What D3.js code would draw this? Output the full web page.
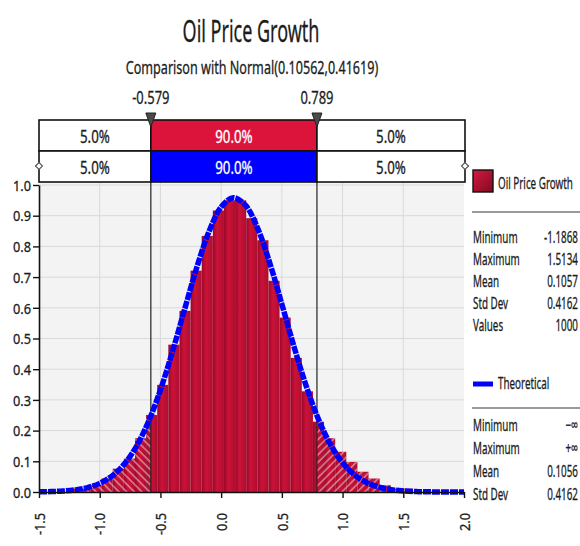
<!DOCTYPE html>
<html>
<head>
<meta charset="utf-8">
<script src="https://cdn.jsdelivr.net/npm/d3@7"></script>
<style>
  html, body { margin: 0; padding: 0; background: #fff; }
  svg { display: block; }
  text { font-family: "Noto Sans", "Open Sans", sans-serif; fill: #1c1c1c;
         paint-order: stroke; stroke-width: 0.3px; }
</style>
</head>
<body>
<div id="chart"></div>
<script>
// Histogram of simulated oil price growth (density scale) with fitted normal curve
const binEdges = [-1.2592, -1.1676, -1.0760, -0.9844, -0.8928, -0.8012, -0.7096, -0.6180,
  -0.5264, -0.4348, -0.3432, -0.2516, -0.1600, -0.0684, 0.0232, 0.1148, 0.2064, 0.2980,
  0.3896, 0.4812, 0.5728, 0.6644, 0.7560, 0.8476, 0.9392, 1.0308, 1.1224, 1.2140,
  1.3056, 1.3972, 1.4888, 1.5804];
const densities = [0.011, 0.011, 0.022, 0.044, 0.076, 0.109, 0.175, 0.251, 0.349, 0.480,
  0.590, 0.721, 0.834, 0.917, 0.950, 0.950, 0.892, 0.820, 0.688, 0.568, 0.437, 0.328,
  0.229, 0.175, 0.131, 0.098, 0.066, 0.044, 0.022, 0.011, 0.011];

// Theoretical Normal(0.10562, 0.41619) density
const curveX = [-1.5, -1.4, -1.3, -1.2, -1.1, -1.0, -0.9, -0.8, -0.7, -0.6, -0.5, -0.4,
  -0.3, -0.2, -0.1, 0.0, 0.1, 0.2, 0.3, 0.4, 0.5, 0.6, 0.7, 0.8, 0.9, 1.0, 1.1, 1.2,
  1.3, 1.4, 1.5, 1.6, 1.7, 1.8, 1.9, 2.0];
const curveY = [0.0006, 0.0014, 0.0032, 0.0070, 0.0144, 0.0281, 0.0517, 0.0899, 0.1472,
  0.2278, 0.3325, 0.4583, 0.5961, 0.7321, 0.8484, 0.9282, 0.9585, 0.9342, 0.8595, 0.7464,
  0.6118, 0.4734, 0.3458, 0.2383, 0.1551, 0.0953, 0.0552, 0.0302, 0.0156, 0.0076,
  0.0035, 0.0015, 0.0006, 0.0002, 0.0001, 0.0000];

const xTicks = [-1.5, -1.0, -0.5, 0.0, 0.5, 1.0, 1.5, 2.0];
const yTicks = [0.0, 0.1, 0.2, 0.3, 0.4, 0.5, 0.6, 0.7, 0.8, 0.9, 1.0];

const cutoffs = [-0.579, 0.789];
const cutoffLabels = ["-0.579", "0.789"];
const simPct = ["5.0%", "90.0%", "5.0%"];
const fitPct = ["5.0%", "90.0%", "5.0%"];

const titleText = "Oil Price Growth";
const subtitleText = "Comparison with Normal(0.10562,0.41619)";

const simName = "Oil Price Growth";
const simStatNames = ["Minimum", "Maximum", "Mean", "Std Dev", "Values"];
const simStatValues = ["-1.1868", "1.5134", "0.1057", "0.4162", "1000"];
const fitName = "Theoretical";
const fitStatNames = ["Minimum", "Maximum", "Mean", "Std Dev"];
const fitStatValues = ["\u2212\u221E", "+\u221E", "0.1056", "0.4162"];

// ---- layout ----
const W = 580, H = 546;
const plotL = 39, plotR = 464, plotT = 181, plotB = 492;
const TICK_SX = 0.85;        // narrow UI font: horizontal squeeze per text group
const INK = "#1c1c1c";

const x = d3.scaleLinear().domain([-1.5, 2.0]).range([plotL, plotR]);
const y = d3.scaleLinear().domain([0, 1.0]).range([plotB, 185]);
const fmt1 = d => d3.format(".1f")(d).replace("\u2212", "-");

const svg = d3.select("#chart").append("svg").attr("width", W).attr("height", H);
const defs = svg.append("defs");

function txt(g, tx, ty, s, size, sx, anchor, fill) {
  const c = fill || INK;
  return g.append("text")
    .attr("transform", `translate(${tx},${ty}) scale(${sx},1)`)
    .attr("text-anchor", anchor || "middle")
    .attr("dy", "0.35em")
    .style("font-size", size + "px")
    .style("fill", c).style("stroke", c)
    .text(s);
}

// gradients and hatching
const bg = defs.append("linearGradient").attr("id", "barGrad")
  .attr("x1", 0).attr("y1", 0).attr("x2", 1).attr("y2", 0);
bg.append("stop").attr("offset", "0%").attr("stop-color", "#98092a");
bg.append("stop").attr("offset", "40%").attr("stop-color", "#cc1238");
bg.append("stop").attr("offset", "100%").attr("stop-color", "#ad0e30");

const lg = defs.append("linearGradient").attr("id", "legGrad")
  .attr("x1", 0).attr("y1", 0).attr("x2", 1).attr("y2", 1);
lg.append("stop").attr("offset", "0%").attr("stop-color", "#d81a40");
lg.append("stop").attr("offset", "100%").attr("stop-color", "#7e0a20");

function hatch(id, angle) {
  const p = defs.append("pattern").attr("id", id)
    .attr("patternUnits", "userSpaceOnUse")
    .attr("width", 5.4).attr("height", 6)
    .attr("patternTransform", `rotate(${angle})`);
  p.append("line").attr("x1", 1).attr("y1", 0).attr("x2", 1).attr("y2", 6)
    .attr("stroke", "#ffffff").attr("stroke-opacity", 0.72).attr("stroke-width", 1);
}
hatch("hatchL", -45);
hatch("hatchR", 45);

defs.append("clipPath").attr("id", "clipL").append("rect")
  .attr("x", plotL).attr("y", plotT).attr("width", x(cutoffs[0]) - plotL).attr("height", plotB - plotT);
defs.append("clipPath").attr("id", "clipR").append("rect")
  .attr("x", x(cutoffs[1])).attr("y", plotT).attr("width", plotR - x(cutoffs[1])).attr("height", plotB - plotT);

// ---- titles ----
txt(svg, 251, 31, titleText, 30, 0.6);
txt(svg, 252, 68, subtitleText, 18, 0.7);

// ---- plot background and grid ----
svg.append("rect").attr("x", plotL).attr("y", plotT)
  .attr("width", plotR - plotL).attr("height", plotB - plotT).attr("fill", "#f3f3f3");

svg.append("g").selectAll("line").data(yTicks.filter(d => d > 0)).join("line")
  .attr("x1", plotL).attr("x2", plotR).attr("y1", d => y(d)).attr("y2", d => y(d))
  .attr("stroke", "#d9d9d9").attr("stroke-width", 1);
svg.append("g").selectAll("line").data(xTicks.filter(d => d > -1.5 && d < 2.0)).join("line")
  .attr("x1", d => x(d)).attr("x2", d => x(d)).attr("y1", plotT).attr("y2", plotB)
  .attr("stroke", "#d9d9d9").attr("stroke-width", 1);

// ---- histogram ----
const bins = densities.map((d, i) => ({ x0: binEdges[i], x1: binEdges[i + 1], v: d }));
svg.append("g").selectAll("rect").data(bins).join("rect")
  .attr("x", d => x(d.x0)).attr("width", d => x(d.x1) - x(d.x0))
  .attr("y", d => y(d.v)).attr("height", d => y(0) - y(d.v))
  .attr("fill", "url(#barGrad)");

// hatched tails outside the 90% interval
[["clipL", "hatchL"], ["clipR", "hatchR"]].forEach(([clip, pat]) => {
  svg.append("g").attr("clip-path", `url(#${clip})`)
    .selectAll("rect").data(bins).join("rect")
    .attr("x", d => x(d.x0)).attr("width", d => x(d.x1) - x(d.x0))
    .attr("y", d => y(d.v)).attr("height", d => y(0) - y(d.v))
    .attr("fill", `url(#${pat})`);
});

// ---- cutoff lines ----
svg.append("g").selectAll("line").data(cutoffs).join("line")
  .attr("x1", d => x(d)).attr("x2", d => x(d)).attr("y1", 118).attr("y2", plotB)
  .attr("stroke", "#222").attr("stroke-width", 1.2);

// ---- theoretical curve ----
const line = d3.line().x((d, i) => x(curveX[i])).y(d => y(d)).curve(d3.curveCatmullRom);
svg.append("path").datum(curveY).attr("d", line)
  .attr("fill", "none").attr("stroke", "#0000ff").attr("stroke-width", 5.5)
  .attr("stroke-dasharray", "8 1");

// ---- axes ----
const yAxis = svg.append("g").attr("transform", `translate(${plotL},0)`)
  .call(d3.axisLeft(y).tickValues(yTicks).tickSize(6).tickSizeOuter(0).tickFormat(fmt1));
const xAxis = svg.append("g").attr("transform", `translate(0,${plotB})`)
  .call(d3.axisBottom(x).tickValues(xTicks).tickSize(6).tickSizeOuter(0).tickFormat(fmt1));

[yAxis, xAxis].forEach(a => {
  a.attr("font-family", null).attr("font-size", null);
  a.select(".domain").attr("stroke", "#111").attr("stroke-width", 1.6);
  a.selectAll(".tick line").attr("stroke", "#111").attr("stroke-width", 1.4);
  a.selectAll(".tick text").style("font-size", "15px").style("fill", INK).style("stroke", INK);
});
yAxis.selectAll(".tick text")
  .attr("x", -8 / TICK_SX).attr("dy", "0.35em")
  .attr("transform", `scale(${TICK_SX},1)`);
xAxis.selectAll(".tick text")
  .attr("y", null).attr("x", -21 / TICK_SX).attr("dy", "0.35em")
  .attr("text-anchor", "end")
  .attr("transform", `rotate(-90) scale(${TICK_SX},1)`);

// ---- percentile bars ----
const rowL = plotL, rowR = plotR + 1;
const cellEdges = [rowL, x(cutoffs[0]), x(cutoffs[1]), rowR];
const rows = [
  { top: 120, h: 31, labels: simPct, mid: "#dc143c" },
  { top: 151, h: 31, labels: fitPct, mid: "#0000ff" }
];
rows.forEach(r => {
  const g = svg.append("g");
  for (let i = 0; i < 3; i++) {
    g.append("rect").attr("x", cellEdges[i]).attr("y", r.top)
      .attr("width", cellEdges[i + 1] - cellEdges[i]).attr("height", r.h)
      .attr("fill", i === 1 ? r.mid : "#fff")
      .attr("stroke", "#111").attr("stroke-width", 1.6);
    txt(g, (cellEdges[i] + cellEdges[i + 1]) / 2, r.top + r.h / 2 + 1, r.labels[i], 18, 0.74,
      "middle", i === 1 ? "#fff" : INK);
  }
});

// cutoff markers and labels
cutoffs.forEach((c, i) => {
  const cx = x(c);
  svg.append("path").attr("d", `M${cx - 5},113 L${cx + 5},113 L${cx},127 Z`)
    .attr("fill", "#4a4a4a").attr("stroke", "#222").attr("stroke-width", 1);
  txt(svg, cx, 98, cutoffLabels[i], 18, 0.72);
});

// small drag handles at both ends of the lower bar
[rowL, rowR].forEach((hx, i) => {
  const s = i === 0 ? -1 : 1;
  const g = svg.append("g").attr("transform", `translate(${hx},166)`);
  g.append("line").attr("x1", 0).attr("x2", 4 * s).attr("y1", 0).attr("y2", 0)
    .attr("stroke", "#555").attr("stroke-width", 1.2);
  g.append("path").attr("d", "M-3.5,0 L0,-3.5 L3.5,0 L0,3.5 Z")
    .attr("fill", "#fff").attr("stroke", "#555").attr("stroke-width", 1.1);
});

// ---- legend and statistics ----
const LSX = 0.58;
const leg = svg.append("g");
leg.append("rect").attr("x", 473).attr("y", 170).attr("width", 20).attr("height", 22)
  .attr("fill", "url(#legGrad)").attr("stroke", "#111").attr("stroke-width", 1.4);
txt(leg, 498, 183, simName, 17, LSX, "start");
leg.append("line").attr("x1", 472).attr("x2", 580).attr("y1", 212).attr("y2", 212)
  .attr("stroke", "#9a9a9a").attr("stroke-width", 2);
simStatNames.forEach((n, i) => {
  txt(leg, 473, 237 + i * 22, n, 17, LSX, "start");
  txt(leg, 578, 237 + i * 22, simStatValues[i], 17, LSX, "end");
});

leg.append("line").attr("x1", 473).attr("x2", 493).attr("y1", 384).attr("y2", 384)
  .attr("stroke", "#0000ff").attr("stroke-width", 5);
txt(leg, 498, 383, fitName, 17, LSX, "start");
leg.append("line").attr("x1", 472).attr("x2", 580).attr("y1", 408).attr("y2", 408)
  .attr("stroke", "#9a9a9a").attr("stroke-width", 2);
fitStatNames.forEach((n, i) => {
  txt(leg, 473, 425 + i * 23, n, 17, LSX, "start");
  txt(leg, 578, 425 + i * 23, fitStatValues[i], 17, LSX, "end");
});
</script>
</body>
</html>
